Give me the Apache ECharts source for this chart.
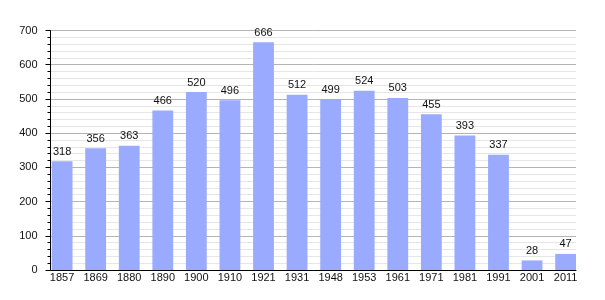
<!DOCTYPE html>
<html>
<head>
<meta charset="utf-8">
<script src="https://cdn.jsdelivr.net/npm/echarts@6/dist/echarts.min.js"></script>
<style>html,body{margin:0;padding:0;background:#fff;}#c{width:605px;height:300px;}</style>
</head>
<body>
<div id="c"></div>
<script>
const years = ['1857','1869','1880','1890','1900','1910','1921','1931','1948','1953','1961','1971','1981','1991','2001','2011'];
const population = [318,356,363,466,520,496,666,512,499,524,503,455,393,337,28,47];
const yTicks = [0,100,200,300,400,500,600,700];

const chart = echarts.init(document.getElementById('c'), null, {renderer:'canvas'});
const font = '"Liberation Sans", Arial, sans-serif';
const gridTop = 30.5, gridBottom = 30;
chart.setOption({
  animation: false,
  backgroundColor: '#fff',
  grid: [
    {left: 50.5, right: 29, top: gridTop, bottom: gridBottom},
    {left: 45.3, right: 22.6, top: gridTop, bottom: gridBottom}
  ],
  xAxis: [
    {gridIndex: 0, type: 'value', min: 0, max: 1, show: true,
      axisLine: {show: true, lineStyle: {color: '#000', width: 1}},
      axisTick: {show: false}, axisLabel: {show: false}, splitLine: {show: false}},
    {gridIndex: 1, type: 'category', data: years, boundaryGap: true,
      axisLine: {show: false}, axisTick: {show: false},
      axisLabel: {margin: 2, fontSize: 11, color: '#111', fontFamily: font, interval: 0}}
  ],
  yAxis: [
    {gridIndex: 0, type: 'value', min: yTicks[0], max: yTicks[yTicks.length-1], interval: 100,
      axisLine: {show: true, lineStyle: {color: '#000', width: 1}},
      axisTick: {show: true, length: 5, lineStyle: {color: '#000'}},
      minorTick: {show: true, splitNumber: 5, length: 3, lineStyle: {color: '#000'}},
      axisLabel: {margin: 13, fontSize: 11, color: '#111', fontFamily: font},
      splitLine: {show: true, lineStyle: {color: '#b4b4b4', width: 1}},
      minorSplitLine: {show: true, lineStyle: {color: '#e6e6e6', width: 1}}},
    {gridIndex: 1, type: 'value', min: yTicks[0], max: yTicks[yTicks.length-1], show: false,
      splitLine: {show: false}}
  ],
  series: [{
    type: 'bar', xAxisIndex: 1, yAxisIndex: 1, data: population,
    barWidth: 20.8,
    itemStyle: {color: '#99aaff'},
    label: {show: true, position: 'top', distance: 4, fontSize: 11, color: '#111', fontFamily: font}
  }]
});
</script>
</body>
</html>
